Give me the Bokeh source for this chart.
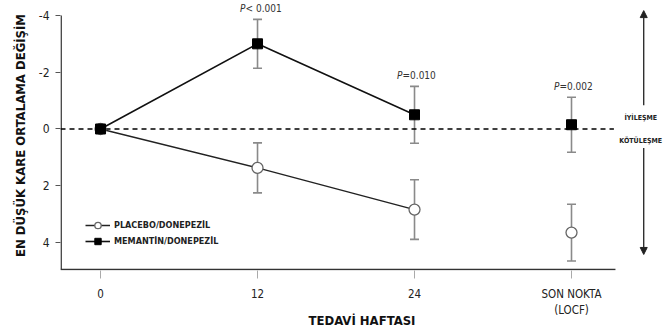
from bokeh.plotting import figure
from bokeh.models import (Range1d, FixedTicker, Whisker, TeeHead, ColumnDataSource,
                          Legend, LegendItem, Arrow, NormalHead)
from bokeh.core.properties import value
from bokeh.embed import file_html
from bokeh.resources import INLINE

# ---- data ----
weeks = ["0", "12", "24", "SON NOKTA\n(LOCF)"]
x_pos = [0, 1, 2, 3]
memantine = [0.0, -3.0, -0.5, -0.15]
memantine_err = [0.0, 0.86, 1.0, 0.97]
placebo = [0.0, 1.37, 2.84, 3.65]
placebo_err = [0.0, 0.88, 1.05, 1.0]
p_labels = ["P< 0.001", "P=0.010", "P=0.002"]
y_ticks = [-4, -2, 0, 2, 4]
y_tick_labels = ["-4", "-2", "0", "2", "4"]
series_names = ["PLACEBO/DONEPEZİL", "MEMANTİN/DONEPEZİL"]
side_labels = ["İYİLEŞME", "KÖTÜLEŞME"]
x_title = "TEDAVİ HAFTASI"
y_title = "EN DÜŞÜK KARE ORTALAMA DEĞİŞİM"

FONT = "DejaVu Sans Condensed"

X0, X1 = -0.255, 3.586
Y_BOTTOM, Y_TOP = 4.985, -4.526
AX_Y = 4.95
AX_X_END = 3.28
ARROW_X = 3.46

p = figure(width=663, height=331, output_backend="svg", toolbar_location=None,
           x_range=Range1d(X0, X1), y_range=Range1d(Y_BOTTOM, Y_TOP),
           min_border_left=60, min_border_right=0, min_border_top=0, min_border_bottom=61)
p.outline_line_color = None
p.grid.visible = False
p.background_fill_color = "white"

# axes
p.xaxis.ticker = FixedTicker(ticks=x_pos)
p.xaxis.major_label_overrides = {x: w for x, w in zip(x_pos, weeks)}
p.xaxis.axis_line_color = None
p.xaxis.major_tick_line_color = "#aaaaaa"
p.xaxis.major_tick_out = 8
p.xaxis.major_tick_in = 0
p.xaxis.minor_tick_line_color = None
p.xaxis.major_label_standoff = 8
p.xaxis.major_label_text_font = FONT
p.xaxis.major_label_text_font_size = "11.5px"
p.xaxis.major_label_text_color = "#222222"
p.xaxis.axis_label = x_title
p.xaxis.axis_label_text_font = FONT
p.xaxis.axis_label_text_font_style = "bold"
p.xaxis.axis_label_text_font_size = "13px"
p.xaxis.axis_label_text_color = "#111111"
p.xaxis.axis_label_standoff = -7

p.yaxis.ticker = FixedTicker(ticks=y_ticks)
p.yaxis.major_label_overrides = {t: s for t, s in zip(y_ticks, y_tick_labels)}
p.yaxis.axis_line_color = None
p.yaxis.major_tick_line_color = "#555555"
p.yaxis.major_tick_out = 5
p.yaxis.major_tick_in = 0
p.yaxis.minor_tick_line_color = None
p.yaxis.major_label_standoff = 6
p.yaxis.major_label_text_font = FONT
p.yaxis.major_label_text_font_size = "12px"
p.yaxis.major_label_text_color = "#222222"
p.yaxis.axis_label = y_title
p.yaxis.axis_label_text_font = FONT
p.yaxis.axis_label_text_font_style = "bold"
p.yaxis.axis_label_text_font_size = "13px"
p.yaxis.axis_label_text_color = "#111111"
p.yaxis.axis_label_standoff = 8

# manual axis lines
p.segment(x0=[X0 + 0.004], y0=[y_ticks[0]], x1=[X0 + 0.004], y1=[AX_Y], line_color="#333333", line_width=1.5)
p.segment(x0=[X0], y0=[AX_Y], x1=[AX_X_END], y1=[AX_Y], line_color="#333333", line_width=1.5)

# zero dashed line
p.segment(x0=[X0], y0=[0], x1=[3.27], y1=[0], line_color="black", line_width=1.3, line_dash="5 4")

# error bars
def err_source(vals, errs):
    idx = [i for i in range(len(vals)) if errs[i] > 0]
    return ColumnDataSource(dict(x=[x_pos[i] for i in idx],
                                 lo=[vals[i] - errs[i] for i in idx],
                                 hi=[vals[i] + errs[i] for i in idx]))

for vals, errs in [(placebo, placebo_err), (memantine, memantine_err)]:
    w = Whisker(source=err_source(vals, errs), base="x", lower="lo", upper="hi",
                line_color="#8a8a8a", line_width=1.6, level="underlay",
                lower_head=TeeHead(size=9, line_color="#8a8a8a", line_width=1.6),
                upper_head=TeeHead(size=9, line_color="#8a8a8a", line_width=1.6))
    p.add_layout(w)

# series
pl_line = p.line(x_pos[:3], placebo[:3], line_color="#222222", line_width=1.5)
pl_pts = p.scatter(x_pos, placebo, marker="circle", size=11, fill_color="white",
                   line_color="#666666", line_width=1.3)
mm_line = p.line(x_pos[:3], memantine[:3], line_color="#111111", line_width=1.6)
mm_pts = p.scatter(x_pos, memantine, marker="square", size=10, fill_color="black",
                   line_color="black")

legend = Legend(items=[LegendItem(label=series_names[0], renderers=[pl_line, pl_pts]),
                       LegendItem(label=series_names[1], renderers=[mm_line, mm_pts])],
                location=(25, 21), border_line_color=None, background_fill_alpha=0,
                padding=0, margin=0, spacing=0, glyph_width=25, glyph_height=16,
                label_height=16, label_standoff=4, label_text_font=FONT,
                label_text_font_style="bold", label_text_font_size="9px",
                label_text_color="#222222")
p.add_layout(legend)

# p-values (italic P + rest)
px = x_pos[1:]
py = [memantine[i] - memantine_err[i] for i in px]
p.text(px, py, text=["P"] * len(px), x_offset=-12, y_offset=-5, text_align="right",
       text_baseline="bottom", text_font=value(FONT), text_font_style="italic",
       text_font_size="10px", text_color="#333333")
p.text(px, py, text=[s[1:] for s in p_labels], x_offset=-12, y_offset=-5, text_align="left",
       text_baseline="bottom", text_font=value(FONT), text_font_size="10px", text_color="#333333")

# right side arrows and labels
p.add_layout(Arrow(x_start=ARROW_X, y_start=-0.84, x_end=ARROW_X, y_end=-4.17,
                   line_color="#222222", line_width=1.3,
                   end=NormalHead(size=7, fill_color="#222222", line_color="#222222")))
p.add_layout(Arrow(x_start=ARROW_X, y_start=0.67, x_end=ARROW_X, y_end=4.42,
                   line_color="#222222", line_width=1.3,
                   end=NormalHead(size=7, fill_color="#222222", line_color="#222222")))
p.text([ARROW_X, ARROW_X], [-0.39, 0.42], text=side_labels, x_offset=-3, text_align="center",
       text_baseline="middle", text_font=value(FONT), text_font_style="bold",
       text_font_size="7px", text_color="#222222")

open("out.html", "w").write(file_html(p, INLINE))
